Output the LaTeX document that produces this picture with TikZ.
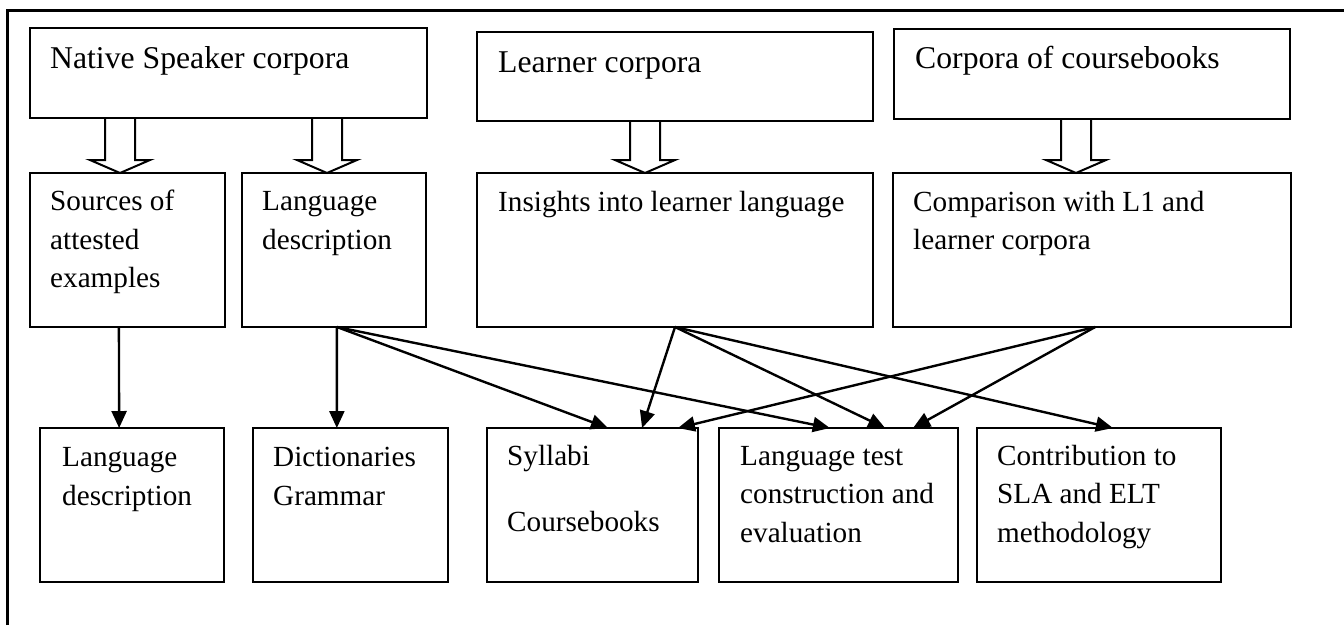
\documentclass[tikz,border=0pt]{standalone}
\usepackage{fontspec}
\setmainfont{Liberation Serif}
\usetikzlibrary{arrows.meta,calc}
\newcommand\blkarrow[4]{% name, cx, ytop, ytip
  \coordinate (#1) at (#2,#3);
  \draw[blk] ($(#1)+(-15,0)$) -- ($(#1)+(-15,#4-#3-13)$) -- ($(#1)+(-30,#4-#3-13)$)
    -- ($(#1)+(0,#4-#3)$) -- ($(#1)+(30,#4-#3-13)$) -- ($(#1)+(15,#4-#3-13)$) -- ($(#1)+(15,0)$);}
\begin{document}
\begin{tikzpicture}[x=1pt,y=-1pt,
  box/.style={draw, line width=2pt, inner sep=0pt, outer sep=0pt, anchor=north west},
  big/.style={font=\fontsize{31.7}{38}\selectfont, anchor=base west, inner sep=0pt},
  txt/.style={font=\fontsize{29.2}{38.5}\selectfont, anchor=base west, inner sep=0pt},
  conn/.style={line width=2.4pt, -{Triangle[length=17pt,width=15pt]}},
  blk/.style={line width=2pt, line join=miter},
  frame/.style={line width=3pt}]
\useasboundingbox (0,0) rectangle (1344,625);
% frame
\coordinate (fr1) at (7.5,625);
\coordinate (fr2) at (7.5,10);
\coordinate (fr3) at (1344,10);
\draw[frame] (fr1) -- (fr2) -- (fr3);
% top row
\node[box, minimum width=397pt, minimum height=90pt] (ns) at (30,28) {};
\node[box, minimum width=396pt, minimum height=89pt] (lc) at (477,32) {};
\node[box, minimum width=396pt, minimum height=90pt] (cc) at (894,29) {};
% second row
\node[box, minimum width=195pt, minimum height=154pt] (src) at (30,173) {};
\node[box, minimum width=184pt, minimum height=154pt] (ld) at (242,173) {};
\node[box, minimum width=396pt, minimum height=154pt] (ins) at (477,173) {};
\node[box, minimum width=398pt, minimum height=154pt] (cmp) at (893,173) {};
% bottom row
\node[box, minimum width=184pt, minimum height=154pt] (bld) at (40,428) {};
\node[box, minimum width=195pt, minimum height=154pt] (dic) at (253,428) {};
\node[box, minimum width=211pt, minimum height=154pt] (syl) at (487,428) {};
\node[box, minimum width=239pt, minimum height=154pt] (lt) at (719,428) {};
\node[box, minimum width=244pt, minimum height=154pt] (ctb) at (977,428) {};
% texts
\node[big] (t1) at (50,68) {Native Speaker corpora};
\node[big] (t2) at (498,72) {Learner corpora};
\node[big] (t3) at (915,68) {Corpora of coursebooks};
\node[txt] (t4a) at (50,210.5) {Sources of};
\node[txt] (t4b) at (50,249) {attested};
\node[txt] (t4c) at (50,287.5) {examples};
\node[txt] (t5a) at (262,210.5) {Language};
\node[txt] (t5b) at (262,249) {description};
\node[txt] (t6) at (498,211.5) {Insights into learner language};
\node[txt] (t7a) at (913,211.5) {Comparison with L1 and};
\node[txt] (t7b) at (913,249.5) {learner corpora};
\node[txt] (t8a) at (62,466) {Language};
\node[txt] (t8b) at (62,505) {description};
\node[txt] (t9a) at (273,466) {Dictionaries};
\node[txt] (t9b) at (273,505) {Grammar};
\node[txt] (t10a) at (507,465) {Syllabi};
\node[txt] (t10b) at (507,531) {Coursebooks};
\node[txt] (t11a) at (740,465) {Language test};
\node[txt] (t11b) at (740,503.5) {construction and};
\node[txt] (t11c) at (740,542) {evaluation};
\node[txt] (t12a) at (997,465) {Contribution to};
\node[txt] (t12b) at (997,503.5) {SLA and ELT};
\node[txt] (t12c) at (997,542) {methodology};
% block arrows
\blkarrow{ba1}{120}{118}{173}
\blkarrow{ba2}{327}{118}{173}
\blkarrow{ba3}{645}{121}{173}
\blkarrow{ba4}{1076}{119}{173}
% connectors
\draw[conn] ($(src.south west)!0.456!(src.south east)$) -- ($(bld.north west)!0.43!(bld.north east)$);
\draw[conn] ($(ld.south west)!0.516!(ld.south east)$) -- ($(dic.north west)!0.43!(dic.north east)$);
\draw[conn] ($(ld.south west)!0.516!(ld.south east)$) -- ($(syl.north west)!0.573!(syl.north east)$);
\draw[conn] ($(ld.south west)!0.516!(ld.south east)$) -- ($(lt.north west)!0.464!(lt.north east)$);
\draw[conn] ($(ins.south west)!0.5!(ins.south east)$) -- ($(syl.north west)!0.735!(syl.north east)$);
\draw[conn] ($(ins.south west)!0.5!(ins.south east)$) -- ($(lt.north west)!0.695!(lt.north east)$);
\draw[conn] ($(ins.south west)!0.5!(ins.south east)$) -- ($(ctb.north west)!0.557!(ctb.north east)$);
\draw[conn] ($(cmp.south west)!0.508!(cmp.south east)$) -- ($(syl.north west)!0.905!(syl.north east)$);
\draw[conn] ($(cmp.south west)!0.508!(cmp.south east)$) -- ($(lt.north west)!0.812!(lt.north east)$);
\end{tikzpicture}
\end{document}
